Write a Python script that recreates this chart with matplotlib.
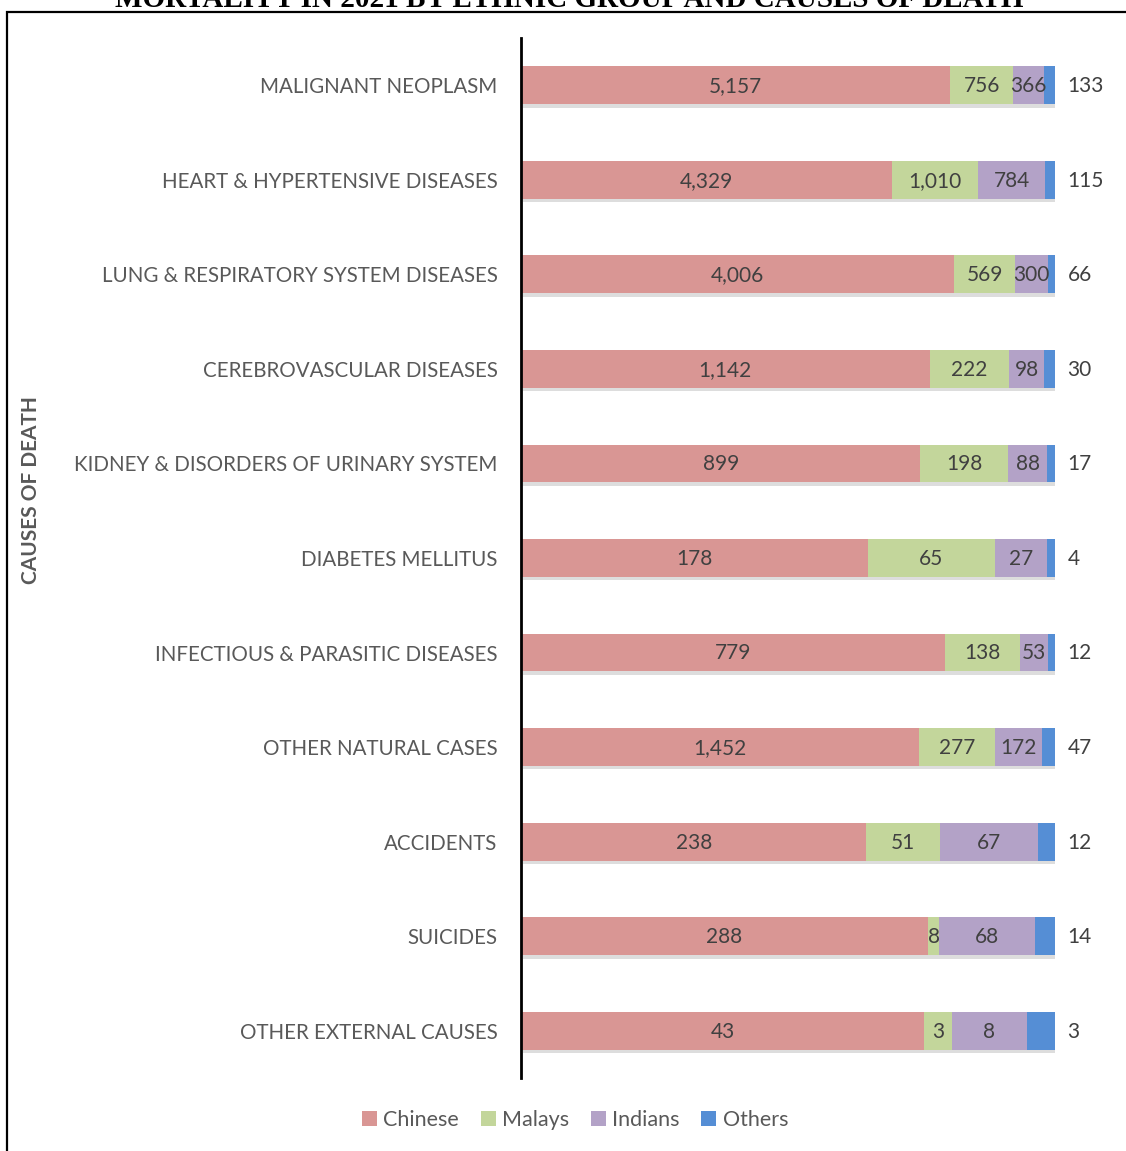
import numpy as np
import matplotlib.pyplot as plt
import matplotlib.patheffects as pe
from matplotlib.patches import Rectangle, Patch

# data
causes = ["MALIGNANT NEOPLASM", "HEART & HYPERTENSIVE DISEASES",
          "LUNG & RESPIRATORY SYSTEM DISEASES", "CEREBROVASCULAR DISEASES",
          "KIDNEY & DISORDERS OF URINARY SYSTEM", "DIABETES MELLITUS",
          "INFECTIOUS & PARASITIC DISEASES", "OTHER NATURAL CASES",
          "ACCIDENTS", "SUICIDES", "OTHER EXTERNAL CAUSES"]
chinese = [5157, 4329, 4006, 1142, 899, 178, 779, 1452, 238, 288, 43]
malays = [756, 1010, 569, 222, 198, 65, 138, 277, 51, 8, 3]
indians = [366, 784, 300, 98, 88, 27, 53, 172, 67, 68, 8]
others = [133, 115, 66, 30, 17, 4, 12, 47, 12, 14, 3]
groups = ["Chinese", "Malays", "Indians", "Others"]
colors = ["#D99694", "#C3D69B", "#B3A2C7", "#558ED5"]

plt.rcParams['font.family'] = ['Lato', 'DejaVu Sans']

vals = np.array([chinese, malays, indians, others], dtype=float)
tot = vals.sum(axis=0)
frac = vals / tot

fig = plt.figure(figsize=(11.26, 11.51), dpi=100)
ax = fig.add_axes([521/1126., 1-1078/1151., 534/1126., 1040/1151.])

y = np.arange(len(causes))
left = np.zeros(len(causes))
shadow = [pe.SimplePatchShadow(offset=(1.5, -2.5), shadow_rgbFace='#909090', alpha=0.3), pe.Normal()]
for k in range(4):
    bars = ax.barh(y, frac[k], left=left, height=0.4, color=colors[k], zorder=2)
    for b in bars:
        b.set_path_effects(shadow)
    for i in range(len(causes)):
        txt = format(int(vals[k, i]), ',')
        if k < 3:
            ax.text(left[i] + frac[k, i]/2, y[i] + 0.01, txt, ha='center', va='center',
                    fontsize=15, color='#404040', zorder=3)
        else:
            ax.annotate(txt, xy=(1, y[i] + 0.01), xytext=(9, 0), textcoords='offset points',
                        ha='left', va='center', fontsize=15, color='#404040')
    left = left + frac[k]

ax.set_xlim(0, 1)
ax.set_ylim(len(causes)-0.5, -0.5)
ax.set_yticks(y)
ax.set_yticklabels(causes, fontsize=14.8, color='#595959')
ax.tick_params(axis='y', length=0, pad=17)
ax.set_xticks([])
for s in ['top', 'right', 'bottom']:
    ax.spines[s].set_visible(False)
ax.spines['left'].set_linewidth(2)
ax.spines['left'].set_color('black')

fig.text(31/1126., 1-490/1151., "CAUSES OF DEATH", rotation=90, ha='center', va='center',
         fontsize=15, fontweight='bold', color='#595959')

handles = [Patch(facecolor=c, label=g) for c, g in zip(colors, groups)]
fig.legend(handles=handles, loc='center', bbox_to_anchor=(575/1126., 1-1120/1151.), ncol=4,
           frameon=False, fontsize=15.5, handlelength=0.7, handleheight=0.7, handletextpad=0.3,
           columnspacing=1.0, labelcolor='#595959')

# outer frame (cropped)
fig.patches.append(Rectangle((7/1126., -0.1), 1.2, 1-12/1151.+0.1, transform=fig.transFigure,
                             fill=False, edgecolor='black', linewidth=1.6))

fig.text(569/1126., 1-7/1151., "MORTALITY IN 2021 BY ETHNIC GROUP AND CAUSES OF DEATH",
         ha='center', va='baseline', fontsize=21, fontweight='bold', family='Liberation Serif')

fig.savefig('out.png', dpi=100)
